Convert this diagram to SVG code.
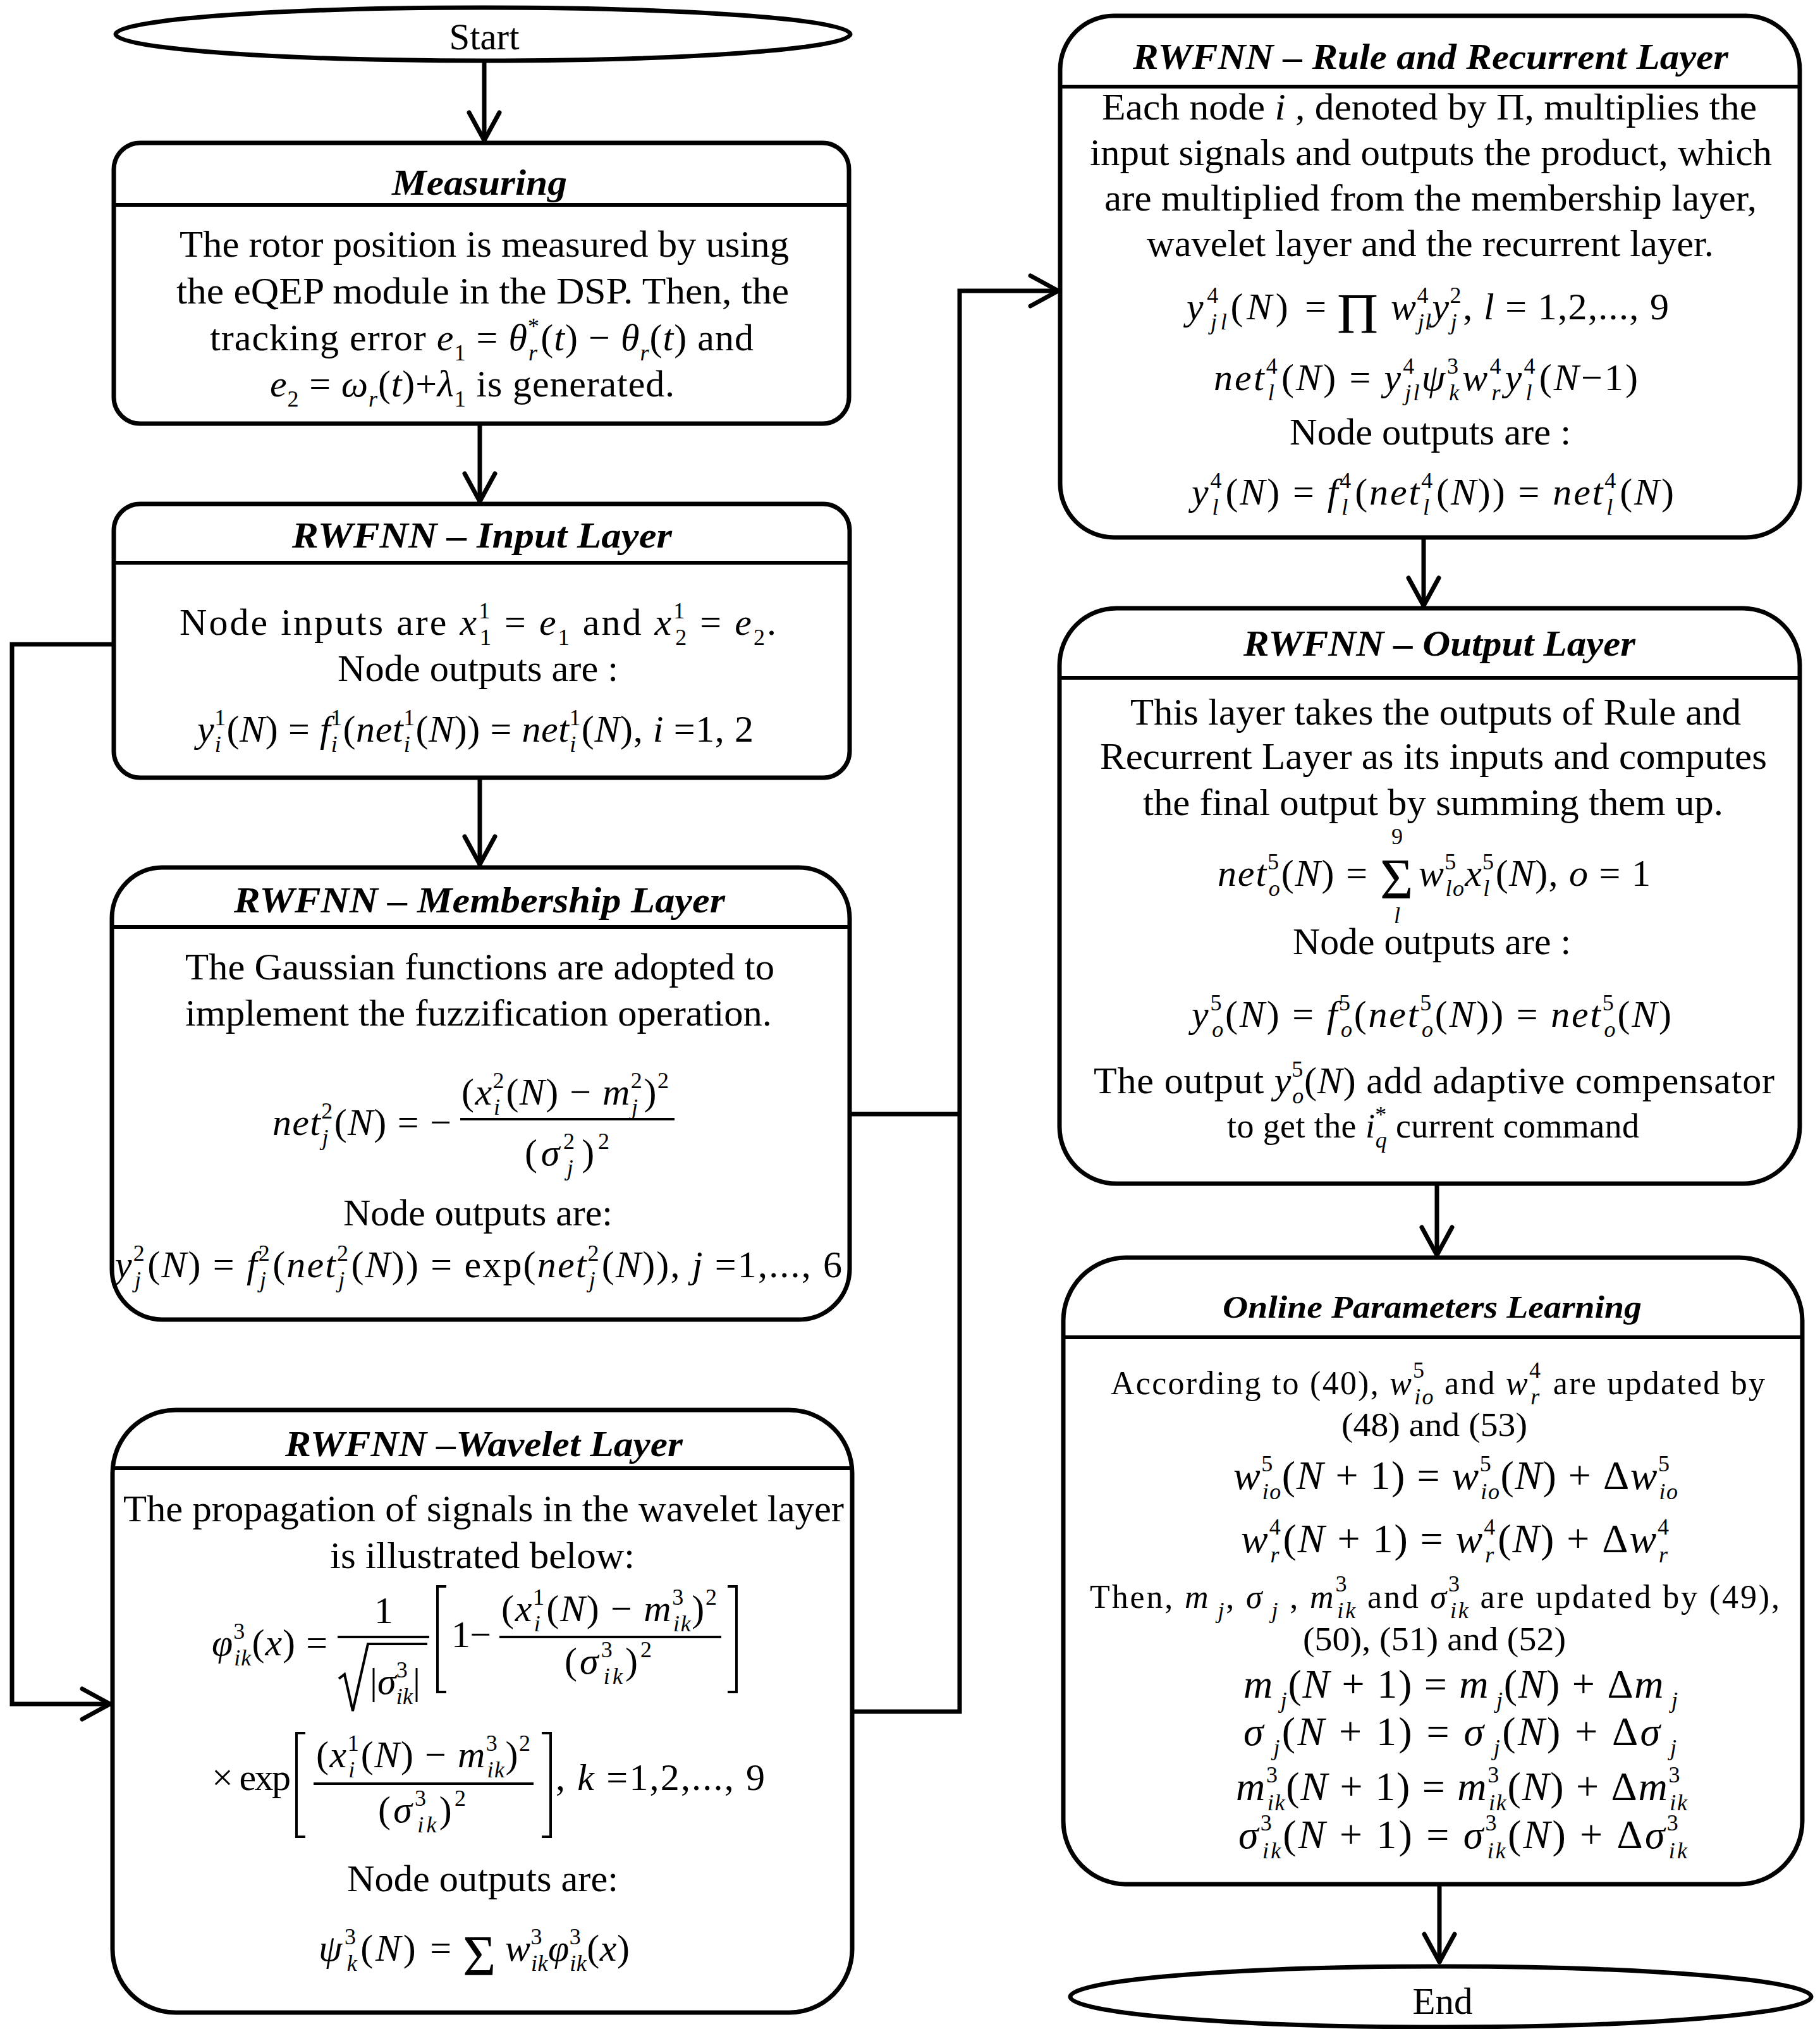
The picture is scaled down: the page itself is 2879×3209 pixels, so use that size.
<svg xmlns="http://www.w3.org/2000/svg" width="2879" height="3209" viewBox="0 0 2879 3209">
<style>
.box{fill:#fff;stroke:#000;stroke-width:7}
.div{stroke:#000;stroke-width:6}
.con{fill:none;stroke:#000;stroke-width:7}
.bar{stroke:#000;stroke-width:4;fill:none}
text{font-family:"Liberation Serif","Times New Roman",serif;font-size:60px;fill:#000}
.h{font-weight:bold;font-style:italic;font-size:58px}
.i{font-style:italic}
.s{font-size:36px}
.o{font-size:52px}
.f{font-size:64px}
.big{font-size:90px}
</style>
<defs>
<marker id="arr" markerUnits="userSpaceOnUse" viewBox="-52 -30 60 60" markerWidth="60" markerHeight="60" refX="0" refY="0" orient="auto">
<path d="M-46,-24 L-2,0 L-46,24" fill="none" stroke="#000" stroke-width="7" stroke-linecap="round" stroke-linejoin="round"/>
</marker>
</defs>
<rect width="2879" height="3209" fill="#fff"/>

<g id="connectors">
<line class="con" x1="766" y1="99" x2="766" y2="224" marker-end="url(#arr)"/>
<line class="con" x1="759" y1="672" x2="759" y2="795" marker-end="url(#arr)"/>
<line class="con" x1="759" y1="1232" x2="759" y2="1369" marker-end="url(#arr)"/>
<polyline class="con" points="177,1019 19,1019 19,2695 176,2695" marker-end="url(#arr)"/>
<line class="con" x1="1344" y1="1762" x2="1518" y2="1762"/>
<polyline class="con" points="1349,2707 1518,2707 1518,460 1676,460" marker-end="url(#arr)"/>
<line class="con" x1="2252" y1="850" x2="2252" y2="960" marker-end="url(#arr)"/>
<line class="con" x1="2273" y1="1872" x2="2273" y2="1987" marker-end="url(#arr)"/>
<line class="con" x1="2277" y1="2980" x2="2277" y2="3105" marker-end="url(#arr)"/>
</g>

<g id="start">
<ellipse class="box" cx="764" cy="54" rx="581" ry="42"/>
<text x="766" y="78" text-anchor="middle" textLength="111" lengthAdjust="spacingAndGlyphs">Start</text>
</g>

<g id="measuring">
<rect class="box" x="180" y="226" width="1163" height="444" rx="42"/>
<line class="div" x1="180" y1="324" x2="1343" y2="324"/>
<text class="h" x="620" y="308" textLength="277" lengthAdjust="spacingAndGlyphs">Measuring</text>
<text x="284" y="406" textLength="964" lengthAdjust="spacingAndGlyphs">The rotor position is measured by using</text>
<text x="279" y="480" textLength="969" lengthAdjust="spacingAndGlyphs">the eQEP module in the DSP. Then, the</text>
<text x="332" y="554" textLength="860" lengthAdjust="spacing">tracking error <tspan class="i">e</tspan><tspan class="s" dy="16">1</tspan><tspan dy="-16"> = <tspan class="i">θ</tspan></tspan><tspan class="s" dy="-26">*</tspan><tspan class="s i" dx="-18" dy="42">r</tspan><tspan dx="4" dy="-16">(<tspan class="i">t</tspan>) − <tspan class="i">θ</tspan></tspan><tspan class="s i" dy="16">r</tspan><tspan dy="-16">(<tspan class="i">t</tspan>) and</tspan></text>
<text x="427" y="627" textLength="640" lengthAdjust="spacing"><tspan class="i">e</tspan><tspan class="s" dy="16">2</tspan><tspan dy="-16"> = <tspan class="i">ω</tspan></tspan><tspan class="s i" dy="16">r</tspan><tspan dy="-16">(<tspan class="i">t</tspan>)+<tspan class="i">λ</tspan></tspan><tspan class="s" dy="16">1</tspan><tspan dy="-16">  is generated.</tspan></text>
</g>

<g id="input">
<rect class="box" x="180" y="797" width="1164" height="433" rx="42"/>
<line class="div" x1="180" y1="890" x2="1344" y2="890"/>
<text class="h" x="462" y="866" textLength="601" lengthAdjust="spacingAndGlyphs">RWFNN – Input  Layer</text>
<text x="284" y="1004" textLength="944" lengthAdjust="spacing">Node inputs are <tspan class="i">x</tspan><tspan class="s" dy="-26">1</tspan><tspan class="s" dx="-18" dy="42">1</tspan><tspan dy="-16"> = <tspan class="i">e</tspan></tspan><tspan class="s" dy="16">1</tspan><tspan dy="-16"> and <tspan class="i">x</tspan></tspan><tspan class="s" dy="-26">1</tspan><tspan class="s" dx="-18" dy="42">2</tspan><tspan dy="-16"> = <tspan class="i">e</tspan></tspan><tspan class="s" dy="16">2</tspan><tspan dy="-16">.</tspan></text>
<text x="534" y="1077" textLength="444" lengthAdjust="spacingAndGlyphs">Node outputs are :</text>
<text x="312" y="1173" textLength="880" lengthAdjust="spacing"><tspan class="i">y</tspan><tspan class="s" dy="-26">1</tspan><tspan class="s i" dx="-18" dy="42">i</tspan><tspan dx="8" dy="-16">(<tspan class="i">N</tspan>) = <tspan class="i">f</tspan></tspan><tspan class="s" dy="-26">1</tspan><tspan class="s i" dx="-18" dy="42">i</tspan><tspan dx="8" dy="-16">(<tspan class="i">net</tspan></tspan><tspan class="s" dy="-26">1</tspan><tspan class="s i" dx="-18" dy="42">i</tspan><tspan dx="8" dy="-16">(<tspan class="i">N</tspan>)) = <tspan class="i">net</tspan></tspan><tspan class="s" dy="-26">1</tspan><tspan class="s i" dx="-18" dy="42">i</tspan><tspan dx="8" dy="-16">(<tspan class="i">N</tspan>),  <tspan class="i">i</tspan> =1, 2</tspan></text>
</g>

<g id="membership">
<rect class="box" x="177" y="1372" width="1167" height="715" rx="80"/>
<line class="div" x1="177" y1="1466" x2="1344" y2="1466"/>
<text class="h" x="370" y="1443" textLength="777" lengthAdjust="spacingAndGlyphs">RWFNN – Membership  Layer</text>
<text x="293" y="1549" textLength="932" lengthAdjust="spacingAndGlyphs">The Gaussian functions are adopted to</text>
<text x="293" y="1622" textLength="928" lengthAdjust="spacingAndGlyphs">implement the fuzzification operation.</text>
<text x="431" y="1795" textLength="283" lengthAdjust="spacing"><tspan class="i">net</tspan><tspan class="s" dy="-26">2</tspan><tspan class="s i" dx="-18" dy="42">j</tspan><tspan dx="8" dy="-16">(<tspan class="i">N</tspan>) = −</tspan></text>
<line class="bar" x1="728" y1="1770" x2="1067" y2="1770"/>
<text x="730" y="1747" textLength="328" lengthAdjust="spacing">(<tspan class="i">x</tspan><tspan class="s" dy="-26">2</tspan><tspan class="s i" dx="-18" dy="42">i</tspan><tspan dx="8" dy="-16">(<tspan class="i">N</tspan>) − <tspan class="i">m</tspan></tspan><tspan class="s" dy="-26">2</tspan><tspan class="s i" dx="-18" dy="42">j</tspan><tspan dx="8" dy="-16">)</tspan><tspan class="s" dy="-26">2</tspan></text>
<text x="830" y="1843" textLength="134" lengthAdjust="spacing">(<tspan class="i">σ</tspan><tspan class="s" dy="-26">2</tspan><tspan class="s i" dx="-18" dy="42">j</tspan><tspan dx="8" dy="-16">)</tspan><tspan class="s" dy="-26">2</tspan></text>
<text x="543" y="1938" textLength="426" lengthAdjust="spacingAndGlyphs">Node outputs are:</text>
<text x="182" y="2020" textLength="1150" lengthAdjust="spacing"><tspan class="i">y</tspan><tspan class="s" dy="-26">2</tspan><tspan class="s i" dx="-18" dy="42">j</tspan><tspan dx="8" dy="-16">(<tspan class="i">N</tspan>) = <tspan class="i">f</tspan></tspan><tspan class="s" dy="-26">2</tspan><tspan class="s i" dx="-18" dy="42">j</tspan><tspan dx="8" dy="-16">(<tspan class="i">net</tspan></tspan><tspan class="s" dy="-26">2</tspan><tspan class="s i" dx="-18" dy="42">j</tspan><tspan dx="8" dy="-16">(<tspan class="i">N</tspan>)) = exp(<tspan class="i">net</tspan></tspan><tspan class="s" dy="-26">2</tspan><tspan class="s i" dx="-18" dy="42">j</tspan><tspan dx="8" dy="-16">(<tspan class="i">N</tspan>)), <tspan class="i">j</tspan>  =1,...,  6</tspan></text>
</g>

<g id="wavelet">
<rect class="box" x="178" y="2230" width="1170" height="953" rx="100"/>
<line class="div" x1="178" y1="2322" x2="1348" y2="2322"/>
<text class="h" x="451" y="2303" textLength="629" lengthAdjust="spacingAndGlyphs">RWFNN –Wavelet Layer</text>
<text x="195" y="2406" textLength="1140" lengthAdjust="spacingAndGlyphs">The propagation of signals in the wavelet layer</text>
<text x="522" y="2480" textLength="482" lengthAdjust="spacingAndGlyphs">is illustrated below:</text>
<text x="335" y="2618" textLength="183" lengthAdjust="spacing"><tspan class="i">φ</tspan><tspan class="s" dy="-26">3</tspan><tspan class="s i" dx="-18" dy="42">ik</tspan><tspan dy="-16">(<tspan class="i">x</tspan>) =</tspan></text>
<line class="bar" x1="534" y1="2589" x2="679" y2="2589"/>
<text x="607" y="2567" text-anchor="middle">1</text>
<path class="bar" d="M536,2655 L545,2648 L558,2706 L582,2600 L676,2600"/>
<text x="585" y="2679" textLength="80" lengthAdjust="spacing">|<tspan class="i">σ</tspan><tspan class="s" dy="-26">3</tspan><tspan class="s i" dx="-18" dy="42">ik</tspan><tspan dy="-16">|</tspan></text>
<path class="bar" d="M706,2509 L692,2509 L692,2676 L706,2676"/>
<path class="bar" d="M1151,2509 L1165,2509 L1165,2676 L1151,2676"/>
<text x="714" y="2605" textLength="63" lengthAdjust="spacing">1−</text>
<line class="bar" x1="790" y1="2589" x2="1141" y2="2589"/>
<text x="793" y="2564" textLength="341" lengthAdjust="spacing">(<tspan class="i">x</tspan><tspan class="s" dy="-26">1</tspan><tspan class="s i" dx="-18" dy="42">i</tspan><tspan dx="8" dy="-16">(<tspan class="i">N</tspan>) − <tspan class="i">m</tspan></tspan><tspan class="s" dy="-26">3</tspan><tspan class="s i" dx="-18" dy="42">ik</tspan><tspan dy="-16">)</tspan><tspan class="s" dy="-26">2</tspan></text>
<text x="893" y="2647" textLength="138" lengthAdjust="spacing">(<tspan class="i">σ</tspan><tspan class="s" dy="-26">3</tspan><tspan class="s i" dx="-18" dy="42">ik</tspan><tspan dy="-16">)</tspan><tspan class="s" dy="-26">2</tspan></text>
<text x="335" y="2831" textLength="125" lengthAdjust="spacing">× exp</text>
<path class="bar" d="M483,2741 L469,2741 L469,2905 L483,2905"/>
<path class="bar" d="M857,2741 L871,2741 L871,2905 L857,2905"/>
<line class="bar" x1="496" y1="2821" x2="844" y2="2821"/>
<text x="500" y="2795" textLength="339" lengthAdjust="spacing">(<tspan class="i">x</tspan><tspan class="s" dy="-26">1</tspan><tspan class="s i" dx="-18" dy="42">i</tspan><tspan dx="8" dy="-16">(<tspan class="i">N</tspan>) − <tspan class="i">m</tspan></tspan><tspan class="s" dy="-26">3</tspan><tspan class="s i" dx="-18" dy="42">ik</tspan><tspan dy="-16">)</tspan><tspan class="s" dy="-26">2</tspan></text>
<text x="598" y="2882" textLength="139" lengthAdjust="spacing">(<tspan class="i">σ</tspan><tspan class="s" dy="-26">3</tspan><tspan class="s i" dx="-18" dy="42">ik</tspan><tspan dy="-16">)</tspan><tspan class="s" dy="-26">2</tspan></text>
<text x="879" y="2831" textLength="331" lengthAdjust="spacing">, <tspan class="i">k</tspan>  =1,2,...,  9</text>
<text x="549" y="2991" textLength="429" lengthAdjust="spacingAndGlyphs">Node outputs are:</text>
<text x="504" y="3101" textLength="210" lengthAdjust="spacing"><tspan class="i">ψ</tspan><tspan class="s" dy="-26">3</tspan><tspan class="s i" dx="-18" dy="42">k</tspan><tspan dx="2" dy="-16">(<tspan class="i">N</tspan>) =</tspan></text>
<text class="big" x="732" y="3124">Σ</text>
<text x="799" y="3101" textLength="197" lengthAdjust="spacing"><tspan class="i">w</tspan><tspan class="s" dy="-26">3</tspan><tspan class="s i" dx="-18" dy="42">ik</tspan><tspan dy="-16" class="i">φ</tspan><tspan class="s" dy="-26">3</tspan><tspan class="s i" dx="-18" dy="42">ik</tspan><tspan dy="-16">(<tspan class="i">x</tspan>)</tspan></text>
</g>

<g id="rule">
<rect class="box" x="1677" y="25" width="1170" height="825" rx="85"/>
<line class="div" x1="1677" y1="137" x2="2847" y2="137"/>
<text class="h" x="1792" y="109" textLength="942" lengthAdjust="spacingAndGlyphs">RWFNN – Rule and Recurrent Layer</text>
<text x="1743" y="189" textLength="1036" lengthAdjust="spacingAndGlyphs">Each node  <tspan class="i">i</tspan> , denoted by Π, multiplies the</text>
<text x="1724" y="261" textLength="1079" lengthAdjust="spacingAndGlyphs">input signals and outputs the product, which</text>
<text x="1747" y="333" textLength="1032" lengthAdjust="spacingAndGlyphs">are multiplied from the membership layer,</text>
<text x="1814" y="405" textLength="897" lengthAdjust="spacingAndGlyphs">wavelet layer and the recurrent layer.</text>
<text x="1877" y="505" textLength="221" lengthAdjust="spacing"><tspan class="i">y</tspan><tspan class="s" dy="-26">4</tspan><tspan class="s i" dx="-18" dy="42">jl</tspan><tspan dy="-16">(<tspan class="i">N</tspan>) =</tspan></text>
<text class="big" x="2115" y="527">Π</text>
<text x="2200" y="505" textLength="440" lengthAdjust="spacing"><tspan class="i">w</tspan><tspan class="s" dy="-26">4</tspan><tspan class="s i" dx="-18" dy="42">jl</tspan><tspan dy="-16" class="i">y</tspan><tspan class="s" dy="-26">2</tspan><tspan class="s i" dx="-18" dy="42">j</tspan><tspan dx="8" dy="-16">, <tspan class="i">l</tspan> = 1,2,...,  9</tspan></text>
<text x="1920" y="617" textLength="671" lengthAdjust="spacing"><tspan class="i">net</tspan><tspan class="s" dy="-26">4</tspan><tspan class="s i" dx="-18" dy="42">l</tspan><tspan dx="8" dy="-16">(<tspan class="i">N</tspan>) = <tspan class="i">y</tspan></tspan><tspan class="s" dy="-26">4</tspan><tspan class="s i" dx="-18" dy="42">jl</tspan><tspan dy="-16" class="i">ψ</tspan><tspan class="s" dy="-26">3</tspan><tspan class="s i" dx="-18" dy="42">k</tspan><tspan dx="2" dy="-16" class="i">w</tspan><tspan class="s" dy="-26">4</tspan><tspan class="s i" dx="-18" dy="42">r</tspan><tspan dx="4" dy="-16" class="i">y</tspan><tspan class="s" dy="-26">4</tspan><tspan class="s i" dx="-18" dy="42">l</tspan><tspan dx="8" dy="-16">(<tspan class="i">N</tspan>−1)</tspan></text>
<text x="2040" y="703" textLength="445" lengthAdjust="spacingAndGlyphs">Node outputs are :</text>
<text x="1885" y="798" textLength="763" lengthAdjust="spacing"><tspan class="i">y</tspan><tspan class="s" dy="-26">4</tspan><tspan class="s i" dx="-18" dy="42">l</tspan><tspan dx="8" dy="-16">(<tspan class="i">N</tspan>) = <tspan class="i">f</tspan></tspan><tspan class="s" dy="-26">4</tspan><tspan class="s i" dx="-18" dy="42">l</tspan><tspan dx="8" dy="-16">(<tspan class="i">net</tspan></tspan><tspan class="s" dy="-26">4</tspan><tspan class="s i" dx="-18" dy="42">l</tspan><tspan dx="8" dy="-16">(<tspan class="i">N</tspan>)) = <tspan class="i">net</tspan></tspan><tspan class="s" dy="-26">4</tspan><tspan class="s i" dx="-18" dy="42">l</tspan><tspan dx="8" dy="-16">(<tspan class="i">N</tspan>)</tspan></text>
</g>

<g id="output">
<rect class="box" x="1676" y="962" width="1171" height="910" rx="90"/>
<line class="div" x1="1676" y1="1072" x2="2847" y2="1072"/>
<text class="h" x="1967" y="1037" textLength="620" lengthAdjust="spacingAndGlyphs">RWFNN – Output Layer</text>
<text x="1788" y="1146" textLength="966" lengthAdjust="spacingAndGlyphs">This layer takes the outputs of Rule and</text>
<text x="1740" y="1216" textLength="1055" lengthAdjust="spacingAndGlyphs">Recurrent Layer as its inputs and computes</text>
<text x="1808" y="1289" textLength="918" lengthAdjust="spacingAndGlyphs">the final output by summing them up.</text>
<text x="1926" y="1401" textLength="237" lengthAdjust="spacing"><tspan class="i">net</tspan><tspan class="s" dy="-26">5</tspan><tspan class="s i" dx="-18" dy="42">o</tspan><tspan dy="-16">(<tspan class="i">N</tspan>) =</tspan></text>
<text class="big" x="2183" y="1421">Σ</text>
<text class="s" x="2210" y="1335" text-anchor="middle">9</text>
<text class="s i" x="2210" y="1460" text-anchor="middle">l</text>
<text x="2244" y="1401" textLength="367" lengthAdjust="spacing"><tspan class="i">w</tspan><tspan class="s" dy="-26">5</tspan><tspan class="s i" dx="-18" dy="42">lo</tspan><tspan dy="-16" class="i">x</tspan><tspan class="s" dy="-26">5</tspan><tspan class="s i" dx="-18" dy="42">l</tspan><tspan dx="8" dy="-16">(<tspan class="i">N</tspan>),  <tspan class="i">o</tspan> = 1</tspan></text>
<text x="2045" y="1509" textLength="440" lengthAdjust="spacingAndGlyphs">Node outputs are :</text>
<text x="1885" y="1624" textLength="759" lengthAdjust="spacing"><tspan class="i">y</tspan><tspan class="s" dy="-26">5</tspan><tspan class="s i" dx="-18" dy="42">o</tspan><tspan dy="-16">(<tspan class="i">N</tspan>) =  <tspan class="i">f</tspan></tspan><tspan class="s" dy="-26">5</tspan><tspan class="s i" dx="-18" dy="42">o</tspan><tspan dy="-16">(<tspan class="i">net</tspan></tspan><tspan class="s" dy="-26">5</tspan><tspan class="s i" dx="-18" dy="42">o</tspan><tspan dy="-16">(<tspan class="i">N</tspan>)) = <tspan class="i">net</tspan></tspan><tspan class="s" dy="-26">5</tspan><tspan class="s i" dx="-18" dy="42">o</tspan><tspan dy="-16">(<tspan class="i">N</tspan>)</tspan></text>
<text x="1730" y="1729" textLength="1077" lengthAdjust="spacing">The output <tspan class="i">y</tspan><tspan class="s" dy="-26">5</tspan><tspan class="s i" dx="-18" dy="42">o</tspan><tspan dy="-16">(<tspan class="i">N</tspan>) add adaptive compensator</tspan></text>
<text x="1941" y="1799" style="font-size:54px" textLength="652" lengthAdjust="spacing">to get the <tspan class="i">i</tspan><tspan class="s" dy="-24">*</tspan><tspan class="s i" dx="-18" dy="40">q</tspan><tspan dy="-16"> current command</tspan></text>
</g>

<g id="online">
<rect class="box" x="1682" y="1989" width="1169" height="991" rx="100"/>
<line class="div" x1="1682" y1="2115" x2="2851" y2="2115"/>
<text class="h" x="1934" y="2084" style="font-size:50px" textLength="663" lengthAdjust="spacingAndGlyphs">Online Parameters Learning</text>
<text class="o" x="1757" y="2205" textLength="1035" lengthAdjust="spacing">According to (40), <tspan class="i">w</tspan><tspan class="s" dy="-26">5</tspan><tspan class="s i" dx="-18" dy="42">io</tspan><tspan dy="-16">  and  <tspan class="i">w</tspan></tspan><tspan class="s" dy="-26">4</tspan><tspan class="s i" dx="-18" dy="42">r</tspan><tspan dx="4" dy="-16">  are updated by</tspan></text>
<text class="o" x="2122" y="2271" textLength="294" lengthAdjust="spacingAndGlyphs">(48) and (53)</text>
<text class="f" x="1951" y="2355" textLength="703" lengthAdjust="spacing"><tspan class="i">w</tspan><tspan class="s" dy="-28">5</tspan><tspan class="s i" dx="-18" dy="44">io</tspan><tspan dy="-16">(<tspan class="i">N</tspan> + 1) = <tspan class="i">w</tspan></tspan><tspan class="s" dy="-28">5</tspan><tspan class="s i" dx="-18" dy="44">io</tspan><tspan dy="-16">(<tspan class="i">N</tspan>) + Δ<tspan class="i">w</tspan></tspan><tspan class="s" dy="-28">5</tspan><tspan class="s i" dx="-18" dy="44">io</tspan></text>
<text class="f" x="1963" y="2455" textLength="679" lengthAdjust="spacing"><tspan class="i">w</tspan><tspan class="s" dy="-28">4</tspan><tspan class="s i" dx="-18" dy="44">r</tspan><tspan dx="4" dy="-16">(<tspan class="i">N</tspan> + 1) = <tspan class="i">w</tspan></tspan><tspan class="s" dy="-28">4</tspan><tspan class="s i" dx="-18" dy="44">r</tspan><tspan dx="4" dy="-16">(<tspan class="i">N</tspan>) + Δ<tspan class="i">w</tspan></tspan><tspan class="s" dy="-28">4</tspan><tspan class="s i" dx="-18" dy="44">r</tspan></text>
<text class="o" x="1724" y="2543" textLength="1091" lengthAdjust="spacing">Then, <tspan class="i">m</tspan><tspan class="s i" dy="16"> j</tspan><tspan dy="-16">, <tspan class="i">σ</tspan></tspan><tspan class="s i" dy="16"> j</tspan><tspan dy="-16">  ,  <tspan class="i">m</tspan></tspan><tspan class="s" dy="-26">3</tspan><tspan class="s i" dx="-18" dy="42">ik</tspan><tspan dy="-16">  and  <tspan class="i">σ</tspan></tspan><tspan class="s" dy="-26">3</tspan><tspan class="s i" dx="-18" dy="42">ik</tspan><tspan dy="-16"> are updated by (49),</tspan></text>
<text class="o" x="2061" y="2610" textLength="416" lengthAdjust="spacingAndGlyphs">(50), (51) and (52)</text>
<text class="f" x="1967" y="2685" textLength="687" lengthAdjust="spacing"><tspan class="i">m</tspan><tspan class="s i" dy="16"> j</tspan><tspan dy="-16">(<tspan class="i">N</tspan> + 1) = <tspan class="i">m</tspan></tspan><tspan class="s i" dy="16"> j</tspan><tspan dy="-16">(<tspan class="i">N</tspan>) + Δ<tspan class="i">m</tspan></tspan><tspan class="s i" dy="16"> j</tspan></text>
<text class="f" x="1967" y="2760" textLength="685" lengthAdjust="spacing"><tspan class="i">σ</tspan><tspan class="s i" dy="16"> j</tspan><tspan dy="-16">(<tspan class="i">N</tspan> + 1) = <tspan class="i">σ</tspan></tspan><tspan class="s i" dy="16"> j</tspan><tspan dy="-16">(<tspan class="i">N</tspan>) + Δ<tspan class="i">σ</tspan></tspan><tspan class="s i" dy="16"> j</tspan></text>
<text class="f" x="1955" y="2847" textLength="714" lengthAdjust="spacing"><tspan class="i">m</tspan><tspan class="s" dy="-28">3</tspan><tspan class="s i" dx="-18" dy="44">ik</tspan><tspan dy="-16">(<tspan class="i">N</tspan> + 1) = <tspan class="i">m</tspan></tspan><tspan class="s" dy="-28">3</tspan><tspan class="s i" dx="-18" dy="44">ik</tspan><tspan dy="-16">(<tspan class="i">N</tspan>) + Δ<tspan class="i">m</tspan></tspan><tspan class="s" dy="-28">3</tspan><tspan class="s i" dx="-18" dy="44">ik</tspan></text>
<text class="f" x="1959" y="2923" textLength="710" lengthAdjust="spacing"><tspan class="i">σ</tspan><tspan class="s" dy="-28">3</tspan><tspan class="s i" dx="-18" dy="44">ik</tspan><tspan dy="-16">(<tspan class="i">N</tspan> + 1) = <tspan class="i">σ</tspan></tspan><tspan class="s" dy="-28">3</tspan><tspan class="s i" dx="-18" dy="44">ik</tspan><tspan dy="-16">(<tspan class="i">N</tspan>) + Δ<tspan class="i">σ</tspan></tspan><tspan class="s" dy="-28">3</tspan><tspan class="s i" dx="-18" dy="44">ik</tspan></text>
</g>

<g id="end">
<ellipse class="box" cx="2279" cy="3158" rx="586" ry="48"/>
<text x="2282" y="3185" text-anchor="middle" textLength="95" lengthAdjust="spacingAndGlyphs">End</text>
</g>
</svg>
